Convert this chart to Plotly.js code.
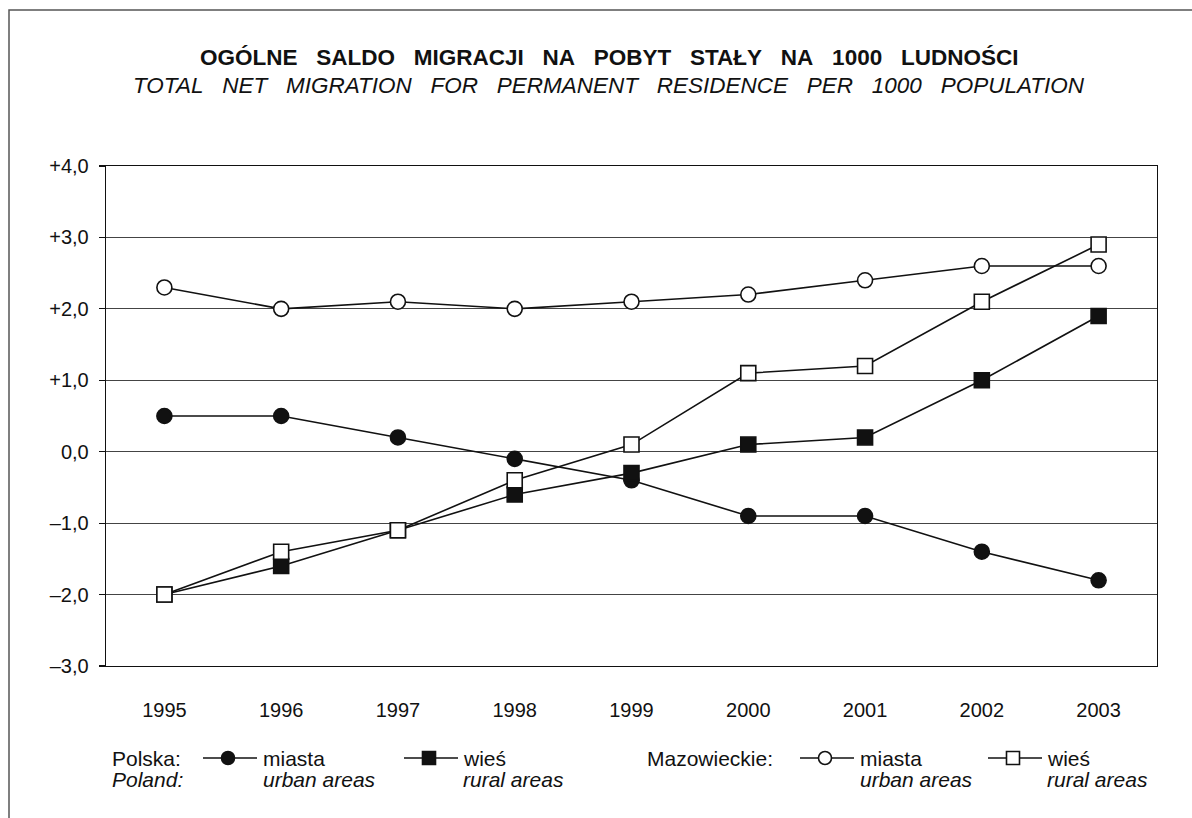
<!DOCTYPE html>
<html>
<head>
<meta charset="utf-8">
<script src="https://cdn.plot.ly/plotly-3.0.1.min.js"></script>
<style>
html,body{margin:0;padding:0;background:#fff;}
#chart{width:1192px;height:818px;}
</style>
</head>
<body>
<div id="chart"></div>
<script>
// ---- data ----
const years = ['1995','1996','1997','1998','1999','2000','2001','2002','2003'];
const polskaMiasta = [0.5, 0.5, 0.2, -0.1, -0.4, -0.9, -0.9, -1.4, -1.8];
const polskaWies = [-2.0, -1.6, -1.1, -0.6, -0.3, 0.1, 0.2, 1.0, 1.9];
const mazMiasta = [2.3, 2.0, 2.1, 2.0, 2.1, 2.2, 2.4, 2.6, 2.6];
const mazWies = [-2.0, -1.4, -1.1, -0.4, 0.1, 1.1, 1.2, 2.1, 2.9];
const yTickVals = [-3, -2, -1, 0, 1, 2, 3, 4];
const yTickText = ['\u20133,0', '\u20132,0', '\u20131,0', '0,0', '+1,0', '+2,0', '+3,0', '+4,0'];
const titlePL = 'OGÓLNE SALDO MIGRACJI NA POBYT STAŁY NA 1000 LUDNOŚCI';
const titleEN = 'TOTAL NET MIGRATION FOR PERMANENT RESIDENCE PER 1000 POPULATION';

// ---- layout geometry ----
const W = 1192, H = 818;
const L = 106, R = 1157, T = 166, B = 666;
const FONT = 'Liberation Sans, Arial, sans-serif';
const INK = '#111';
const xp = px => (px - L) / (R - L);
const yp = py => (B - py) / (B - T);
const gap = s => s.split(' ').join('\u00A0\u00A0\u00A0');

function series(y, symbol, fill) {
  return {
    x: years, y: y, type: 'scatter', mode: 'lines+markers',
    line: {color: INK, width: 1.6},
    marker: {symbol: symbol, size: 15, color: fill, line: {color: INK, width: 1.6}},
    hoverinfo: 'skip', showlegend: false
  };
}

const data = [
  series(polskaMiasta, 'circle', INK),
  series(polskaWies, 'square', INK),
  series(mazMiasta, 'circle', '#fff'),
  series(mazWies, 'square', '#fff')
];

const shapes = [];
// outer frame (top and left edges visible)
shapes.push({type: 'rect', xref: 'paper', yref: 'paper',
  x0: xp(9), x1: xp(1220), y0: yp(840), y1: yp(10),
  line: {color: '#555', width: 1.5}, fillcolor: 'rgba(0,0,0,0)', layer: 'below'});

function legendSym(cx, cy, kind, fill) {
  shapes.push({type: 'line', xref: 'paper', yref: 'paper',
    x0: xp(cx - 25), x1: xp(cx + 29), y0: yp(cy), y1: yp(cy),
    line: {color: INK, width: 1.6}});
  const r = 6.5;
  shapes.push({type: kind, xref: 'paper', yref: 'paper',
    x0: xp(cx - r), x1: xp(cx + r), y0: yp(cy + r), y1: yp(cy - r),
    line: {color: INK, width: 1.6}, fillcolor: fill});
}
const row1 = 758, row2 = 779;
legendSym(228, row1, 'circle', INK);
legendSym(429, row1, 'rect', INK);
legendSym(825, row1, 'circle', '#fff');
legendSym(1013, row1, 'rect', '#fff');

const annotations = [];
function txt(x, y, text, opts) {
  annotations.push(Object.assign({
    xref: 'paper', yref: 'paper', x: xp(x), y: yp(y),
    xanchor: 'left', yanchor: 'middle', showarrow: false, text: text,
    font: {family: FONT, size: 21, color: INK}
  }, opts || {}));
}
txt(609, 57, '<b>' + gap(titlePL) + '</b>', {xanchor: 'center', font: {family: FONT, size: 22.5, color: INK}});
txt(609, 85, '<i>' + gap(titleEN) + '</i>', {xanchor: 'center', font: {family: FONT, size: 22.5, color: INK}});
txt(110, row1, 'Polska:');
txt(110, row2, '<i>Poland:</i>');
txt(261, row1, 'miasta');
txt(261, row2, '<i>urban areas</i>');
txt(461, row1, 'wieś');
txt(461, row2, '<i>rural areas</i>');
txt(645, row1, 'Mazowieckie:');
txt(858, row1, 'miasta');
txt(858, row2, '<i>urban areas</i>');
txt(1045, row1, 'wieś');
txt(1045, row2, '<i>rural areas</i>');

const layout = {
  width: W, height: H,
  margin: {l: L, r: W - R, t: T, b: H - B, pad: 0},
  paper_bgcolor: '#fff', plot_bgcolor: '#fff',
  showlegend: false,
  font: {family: FONT, size: 20, color: INK},
  xaxis: {
    type: 'category', categoryorder: 'array', categoryarray: years,
    range: [-0.5, 8.5], showgrid: false, zeroline: false,
    showline: true, mirror: true, linecolor: INK, linewidth: 1.3,
    ticks: '', tickfont: {family: FONT, size: 20, color: INK},
    ticklabelstandoff: 26, fixedrange: true
  },
  yaxis: {
    range: [-3, 4], tickmode: 'array', tickvals: yTickVals, ticktext: yTickText,
    showgrid: true, gridcolor: '#444', gridwidth: 1, zeroline: false,
    showline: true, mirror: true, linecolor: INK, linewidth: 1.3,
    ticks: 'outside', ticklen: 6, tickcolor: INK, tickwidth: 1.2,
    tickfont: {family: FONT, size: 20, color: INK},
    ticklabelstandoff: 6, fixedrange: true
  },
  shapes: shapes,
  annotations: annotations
};

Plotly.newPlot('chart', data, layout, {displayModeBar: false, staticPlot: true});
</script>
</body>
</html>
